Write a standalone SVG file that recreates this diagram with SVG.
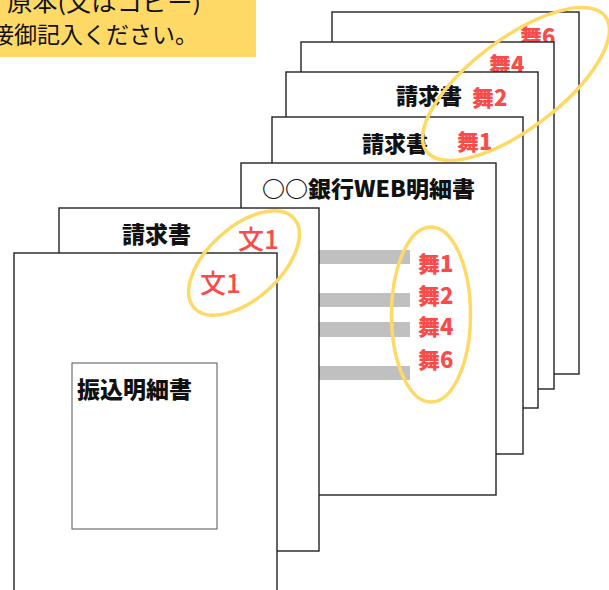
<svg xmlns="http://www.w3.org/2000/svg" width="609" height="590" viewBox="0 0 609 590">
<style>
.page{fill:#fff;stroke:#222;stroke-width:1.4}
.t{font-family:"Noto Sans CJK JP","Noto Sans",sans-serif;fill:#111;font-weight:900}
.r{font-family:"Noto Sans CJK JP","Noto Sans",sans-serif;fill:#fa4b4b;font-weight:900}
.rn{font-family:"Noto Sans CJK JP","Noto Sans",sans-serif;fill:#fa4b4b;font-weight:500}
.ring{fill:none;stroke:#ffd966;stroke-width:3.5}
.bar{fill:#c0c0c0}
</style>
<rect width="609" height="590" fill="#fff"/>
<g id="note">
<rect x="-2" y="-2" width="258" height="59" fill="#ffd966"/>
<text x="7" y="11" font-size="23" textLength="194" lengthAdjust="spacingAndGlyphs" style="font-family:'Noto Sans CJK JP',sans-serif;fill:#111">原本(又はコピー)</text>
<text x="-9" y="43" font-size="23" textLength="207" lengthAdjust="spacingAndGlyphs" style="font-family:'Noto Sans CJK JP',sans-serif;fill:#111">接御記入ください。</text>
</g>
<g id="page-a">
<rect class="page" x="332" y="12" width="247" height="362"/>
<text class="r" x="520" y="45" font-size="22">舞6</text>
</g>
<g id="page-b">
<rect class="page" x="301" y="42" width="253" height="347"/>
<text class="r" x="489" y="73" font-size="22">舞4</text>
</g>
<g id="page-c">
<rect class="page" x="286" y="72" width="252" height="336"/>
<text class="t" x="396" y="104" font-size="22">請求書</text>
<text class="r" x="472" y="106" font-size="22">舞2</text>
</g>
<g id="page-d">
<rect class="page" x="272" y="117" width="251" height="337"/>
<text class="t" x="362" y="152" font-size="22">請求書</text>
<text class="r" x="457" y="150" font-size="22">舞1</text>
</g>
<g id="ring-top">
<ellipse class="ring" cx="516" cy="84" rx="112" ry="45" transform="rotate(-37 516 84)"/>
</g>
<g id="page-e">
<rect class="page" x="241" y="163" width="255" height="332"/>
<text class="t" x="262" y="197" font-size="22" textLength="213" lengthAdjust="spacingAndGlyphs">○○銀行WEB明細書</text>
<rect class="bar" x="300" y="250" width="110" height="14"/>
<rect class="bar" x="300" y="293" width="110" height="14"/>
<rect class="bar" x="300" y="322" width="110" height="15"/>
<rect class="bar" x="300" y="366" width="110" height="14"/>
<text class="r" x="418" y="272" font-size="22">舞1</text>
<text class="r" x="418" y="304" font-size="22">舞2</text>
<text class="r" x="418" y="335" font-size="22">舞4</text>
<text class="r" x="418" y="368" font-size="22">舞6</text>
<ellipse class="ring" cx="431" cy="314.5" rx="39.5" ry="87.5"/>
</g>
<g id="page-f">
<rect class="page" x="59" y="208" width="260" height="343"/>
<text class="t" x="122" y="243" font-size="23">請求書</text>
<text class="rn" x="238" y="249" font-size="26">文1</text>
</g>
<g id="page-g">
<rect class="page" x="14" y="253" width="263" height="345"/>
<rect x="72" y="363" width="145" height="166" fill="#fff" stroke="#555" stroke-width="1"/>
<text class="t" x="77" y="398" font-size="23">振込明細書</text>
<text class="rn" x="200" y="293" font-size="26">文1</text>
</g>
<g id="ring-left">
<ellipse class="ring" cx="244" cy="263" rx="67" ry="36" transform="rotate(-42 244 263)"/>
</g>
</svg>
